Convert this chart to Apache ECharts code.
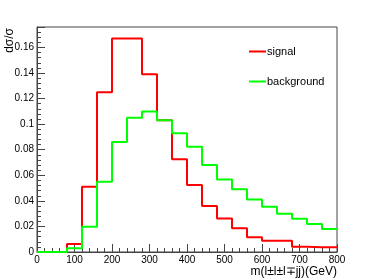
<!DOCTYPE html>
<html><head><meta charset="utf-8">
<script src="https://cdn.jsdelivr.net/npm/echarts@6/dist/echarts.min.js"></script>
<style>html,body{margin:0;padding:0;background:#fff}#c{width:374px;height:280px}</style>
</head><body><div id="c"></div>
<script>
const binWidth = 40;
const xTicks = [0, 100, 200, 300, 400, 500, 600, 700, 800];
const signal = [0, 0, 0.0063, 0.051, 0.125, 0.167, 0.167, 0.139, 0.103, 0.0725, 0.0524, 0.036, 0.0263, 0.0185, 0.0115, 0.0088, 0.0088, 0.0042, 0.0037, 0.0037];
const background = [0, 0, 0.003, 0.0198, 0.055, 0.086, 0.105, 0.110, 0.103, 0.0928, 0.0823, 0.068, 0.0568, 0.049, 0.041, 0.0354, 0.030, 0.026, 0.0219, 0.018];
const yTicks = [0, 0.02, 0.04, 0.06, 0.08, 0.1, 0.12, 0.14, 0.16];

function stepData(vals) {
  const d = vals.map((v, i) => [i * binWidth, v]);
  d.push([vals.length * binWidth, vals[vals.length - 1]]);
  return d;
}
const chart = echarts.init(document.getElementById('c'), null, {renderer: 'canvas'});
const font = 'Liberation Sans, Arial, sans-serif';
const axisCol = '#444';
chart.setOption({
  animation: false,
  backgroundColor: '#fff',
  grid: {left: 37, right: 37, top: 27, bottom: 28, show: true, borderColor: axisCol, borderWidth: 1, containLabel: false},
  legend: {
    orient: 'vertical', left: 244, top: 41, itemGap: 19, itemWidth: 17, itemHeight: 12,
    textStyle: {fontFamily: font, fontSize: 11, color: '#000', padding: [0, 0, 0, -4]},
    data: [{name: 'signal', icon: 'path://M0,5 L17,5 L17,7 L0,7 Z'}, {name: 'background', icon: 'path://M0,5 L17,5 L17,7 L0,7 Z'}]
  },
  xAxis: {
    type: 'value', min: xTicks[0], max: xTicks[xTicks.length - 1], interval: 100,
    axisLine: {show: true, onZero: false, lineStyle: {color: axisCol}},
    axisTick: {show: true, inside: true, length: 8, lineStyle: {color: axisCol}},
    minorTick: {show: true, splitNumber: 5, length: 4, lineStyle: {color: axisCol}},
    splitLine: {show: false},
    axisLabel: {fontFamily: font, fontSize: 10, color: '#000', margin: 3},
    name: 'm(l\u00B1l\u00B1l\u2213jj)(GeV)', nameLocation: 'end',
    nameTextStyle: {fontFamily: font, fontSize: 12, color: '#000', align: 'right', verticalAlign: 'top', padding: [14, 0, 0, 0]},
    nameGap: 0
  },
  yAxis: {
    type: 'value', min: 0, max: 0.176, interval: 0.02,
    axisLine: {show: true, lineStyle: {color: axisCol}},
    axisTick: {show: true, inside: true, length: 8, lineStyle: {color: axisCol}},
    minorTick: {show: true, splitNumber: 5, length: 4, lineStyle: {color: axisCol}},
    splitLine: {show: false},
    axisLabel: {fontFamily: font, fontSize: 10, color: '#000', margin: 3, showMaxLabel: false,
      formatter: v => String(Math.round(v * 100) / 100)},
  },
  graphic: [{
    type: 'text', left: 4, top: 28, rotation: Math.PI / 2,
    style: {text: 'd\u03C3/\u03C3', font: '12px ' + font, fill: '#000'}
  }],
  series: [
    {name: 'signal', type: 'line', step: 'end', symbol: 'none', data: stepData(signal),
      lineStyle: {color: '#ff0000', width: 2}, itemStyle: {color: '#ff0000'}, z: 2},
    {name: 'background', type: 'line', step: 'end', symbol: 'none', data: stepData(background),
      lineStyle: {color: '#00ff00', width: 2}, itemStyle: {color: '#00ff00'}, z: 3}
  ]
});
</script></body></html>
